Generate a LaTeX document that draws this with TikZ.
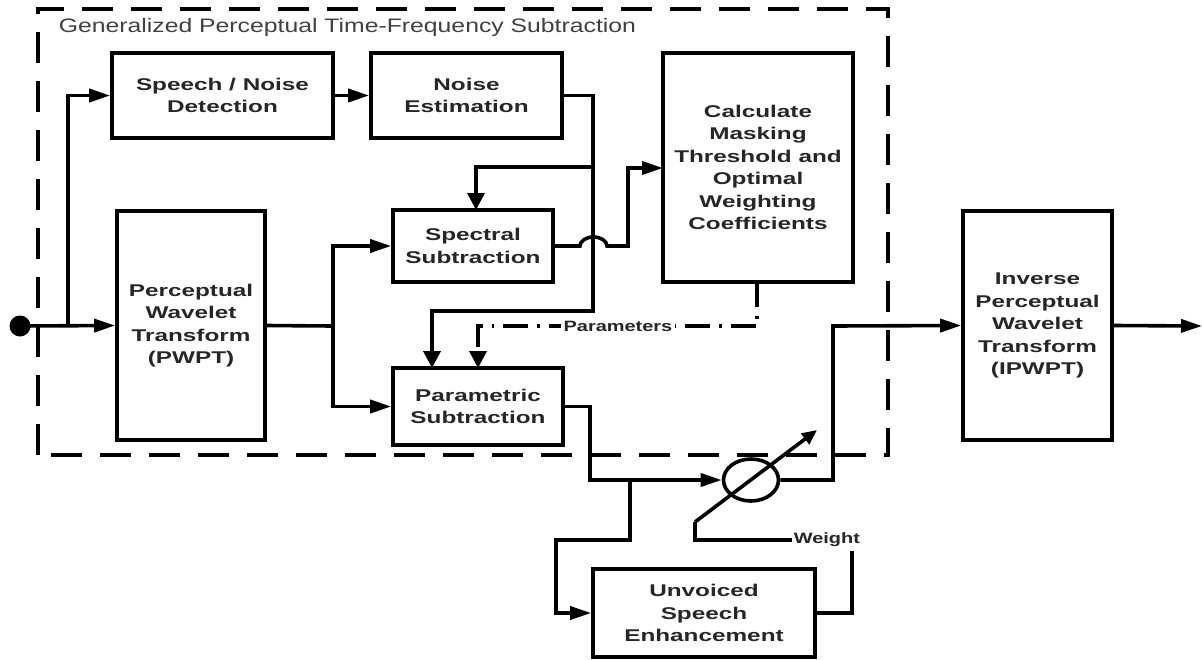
\documentclass[tikz,border=0pt]{standalone}
\usepackage{fontspec}
\setmainfont{Liberation Sans}
\newfontfamily\boxfont[FakeStretch=1.43]{Liberation Sans}
\newfontfamily\titlefont[FakeStretch=1.27]{Liberation Sans}
\newfontfamily\labfont[FakeStretch=1.33]{Liberation Sans}
\usetikzlibrary{arrows.meta,shapes.geometric}
\begin{document}
\begin{tikzpicture}[x=1pt,y=-1pt,line width=3.6pt,
  blk/.style={draw,line width=3.6pt,align=center,inner sep=0pt,
    font=\boxfont\bfseries\fontsize{17}{22.5}\selectfont,text=black!85},
  lab/.style={font=\labfont\bfseries\fontsize{15}{16}\selectfont,text=black!85},
  ha/.style={-{Triangle[length=21pt,width=13pt]}},
  va/.style={-{Triangle[length=17pt,width=17pt]}},
  da/.style={-{Triangle[length=15pt,width=13pt]}},
  frame/.style={dash pattern=on 31pt off 18pt,line width=3.6pt},
  dd/.style={dash pattern=on 25pt off 9pt on 2.5pt off 9pt}]
\useasboundingbox (0,0) rectangle (1202,659);

% frame
\draw[frame] (38,455) -- (38,9) -- (888,9) -- (888,455) -- cycle;
\node[anchor=base west,inner sep=0pt,font=\titlefont\fontsize{19.5}{20}\selectfont,text=black!75] (title) at (57,32) {Generalized Perceptual Time-Frequency Subtraction};

% blocks
\node[blk,minimum width=221pt,minimum height=85pt] (sn) at (222.5,95.5) {Speech / Noise\\Detection};
\node[blk,minimum width=191pt,minimum height=85pt] (ne) at (466.5,95.5) {Noise\\Estimation};
\node[blk,minimum width=190pt,minimum height=229pt] (calc) at (758,167.5) {Calculate\\Masking\\Threshold and\\Optimal\\Weighting\\Coefficients};
\node[blk,minimum width=148pt,minimum height=229pt] (pwpt) at (191,325.5) {Perceptual\\Wavelet\\Transform\\(PWPT)};
\node[blk,minimum width=160pt,minimum height=72pt] (spec) at (473,246) {Spectral\\Subtraction};
\node[blk,minimum width=170pt,minimum height=77pt] (par) at (478,406.5) {Parametric\\Subtraction};
\node[blk,minimum width=149pt,minimum height=229pt] (ipwpt) at (1037.5,325.5) {Inverse\\Perceptual\\Wavelet\\Transform\\(IPWPT)};
\node[blk,minimum width=222pt,minimum height=88pt] (unv) at (704,613) {Unvoiced\\Speech\\Enhancement};
\node[draw,ellipse,line width=3.6pt,minimum width=55pt,minimum height=42pt,inner sep=0pt] (ell) at (751,480) {};
\node[circle,fill=black,minimum size=21pt,inner sep=0pt] (dot) at (20,326) {};

% coordinates
\coordinate (j1) at (68,326);
\coordinate (j2) at (593,167);
\coordinate (j3) at (593,311);
\coordinate (j4) at (333,326);
\coordinate (j5) at (630,480);
\coordinate (d0) at (695,522);
\coordinate (d1) at (817,430);
\coordinate (out) at (1202,326);

% connectors
\draw[ha] (dot.center) -- (pwpt.west);
\draw[ha] (j1) |- (sn.west);
\draw[ha] (sn.east) -- (ne.west);
\draw[va] (ne.east) -| (j3) -| (432,368);
\draw[va] (j2) -| (476,210);
\draw (pwpt.east) -- (j4);
\draw[ha] (j4) |- (spec.west);
\draw[ha] (j4) |- (par.west);
\draw[ha] (spec.east) -- (580,246) arc[start angle=180,end angle=360,x radius=13.5,y radius=9] -- (628,246) |- (663,168);
\draw[va,dd] (757,282) -- (757,326) -- (478,326) -- (478,368);
\node[lab,fill=white,inner sep=3pt] (prm) at (618,326) {Parameters};
\draw[ha] (par.east) -| (590,480) -- (ell.west);
\draw[ha] (ell.east) -| (833,326) -- (ipwpt.west);
\draw[ha] (ipwpt.east) -- (out);
\draw[da] (d0) -- (d1);
\node[lab,anchor=west,inner sep=0pt] (wt) at (792,540) {Weight};
\draw (d0) -- (695,540) -- (wt.west);
\draw (unv.east) -| (852,551);
\draw[ha] (j5) -- (630,540) -- (556,540) |- (unv.west);
\end{tikzpicture}
\end{document}
